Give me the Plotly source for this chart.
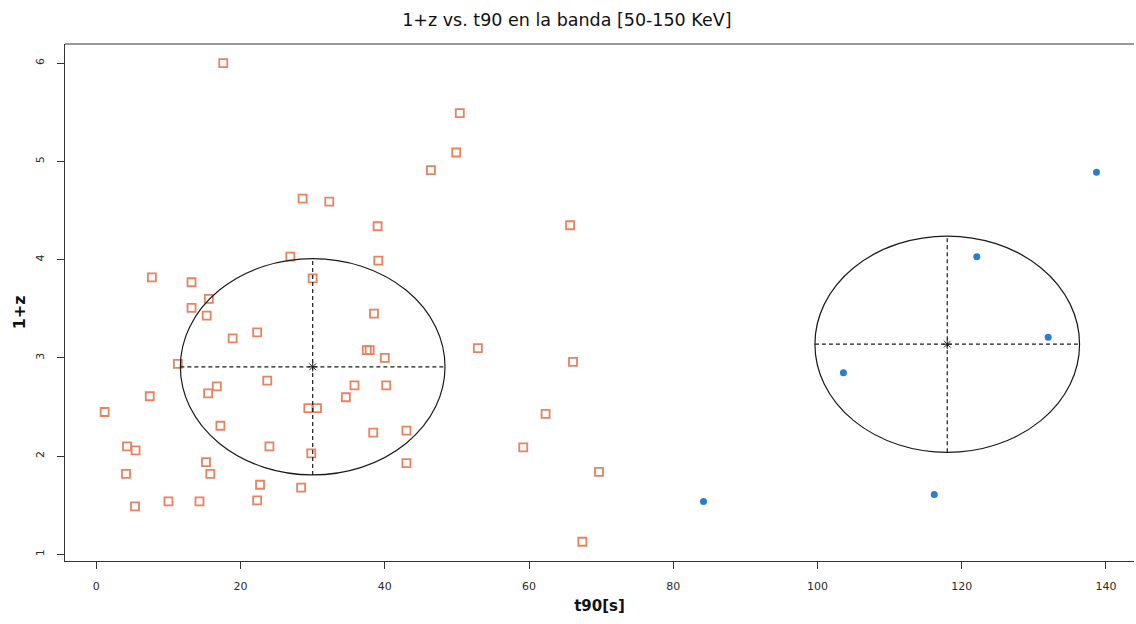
import plotly.graph_objects as go

# t90 [s] and 1+z for the long-duration group (open squares)
t90_a = [17.6, 50.4, 49.9, 46.4, 28.6, 32.3, 39.0, 65.7, 39.1, 30.0,
         26.9, 7.7, 13.2, 15.6, 13.2, 15.3, 18.9, 22.3, 38.5, 37.5,
         37.9, 40.0, 52.9, 11.3, 23.7, 16.7, 15.5, 7.4, 35.8, 40.2,
         34.6, 29.4, 30.6, 17.2, 38.4, 43.0, 24.0, 29.8, 43.0, 15.2,
         15.8, 22.7, 28.4, 10.0, 14.3, 22.3, 1.15, 4.25, 5.44, 4.11,
         5.36, 66.1, 62.3, 59.2, 69.7, 67.4]
z1_a = [6.00, 5.49, 5.09, 4.91, 4.62, 4.59, 4.34, 4.35, 3.99, 3.81,
        4.03, 3.82, 3.77, 3.60, 3.51, 3.43, 3.20, 3.26, 3.45, 3.08,
        3.08, 3.00, 3.10, 2.94, 2.77, 2.71, 2.64, 2.61, 2.72, 2.72,
        2.60, 2.49, 2.49, 2.31, 2.24, 2.26, 2.10, 2.03, 1.93, 1.94,
        1.82, 1.71, 1.68, 1.54, 1.54, 1.55, 2.45, 2.10, 2.06, 1.82,
        1.49, 2.96, 2.43, 2.09, 1.84, 1.13]

# t90 [s] and 1+z for the second group (filled dots)
t90_b = [84.2, 138.7, 122.1, 132.0, 103.6, 116.2]
z1_b = [1.54, 4.89, 4.03, 3.21, 2.85, 1.61]

# group centres and half-widths of the summary ellipses
centre_t90 = [30.0, 118.0]
centre_z1 = [2.91, 3.14]
half_t90 = [18.35, 18.35]
half_z1 = [1.10, 1.10]

x_ticks = [0, 20, 40, 60, 80, 100, 120, 140]
y_ticks = [1, 2, 3, 4, 5, 6]

fig = go.Figure()

fig.add_trace(go.Scatter(
    x=t90_a, y=z1_a, mode="markers",
    marker=dict(symbol="square-open", size=8, color="#E8825F",
                line=dict(width=1.8, color="#E8825F")),
    showlegend=False, hoverinfo="x+y"))

fig.add_trace(go.Scatter(
    x=t90_b, y=z1_b, mode="markers",
    marker=dict(symbol="circle", size=7, color="#2B7BCF"),
    showlegend=False, hoverinfo="x+y"))

fig.add_trace(go.Scatter(
    x=centre_t90, y=centre_z1, mode="markers",
    marker=dict(symbol="asterisk-open", size=8, color="#222",
                line=dict(width=1, color="#222")),
    showlegend=False, hoverinfo="x+y"))

for cx, cy, a, b in zip(centre_t90, centre_z1, half_t90, half_z1):
    fig.add_shape(type="circle", xref="x", yref="y",
                  x0=cx - a, x1=cx + a, y0=cy - b, y1=cy + b,
                  line=dict(color="#1a1a1a", width=1.2))
    fig.add_shape(type="line", xref="x", yref="y",
                  x0=cx - a, x1=cx + a, y0=cy, y1=cy,
                  line=dict(color="#1a1a1a", width=1.2, dash="4px,3px"))
    fig.add_shape(type="line", xref="x", yref="y",
                  x0=cx, x1=cx, y0=cy - b, y1=cy + b,
                  line=dict(color="#1a1a1a", width=1.2, dash="4px,3px"))

axis_font = dict(family="DejaVu Sans", size=11, color="#2a2a2a")

fig.update_layout(
    width=1136, height=624,
    margin=dict(l=65, r=2, t=44, b=63),
    paper_bgcolor="white", plot_bgcolor="white",
    title=dict(text="1+z vs. t90 en la banda [50-150 KeV]",
               x=0.499, xanchor="center", y=1 - 20 / 624, yanchor="middle",
               yref="container",
               font=dict(family="DejaVu Sans", size=17.5, color="#111")),
    xaxis=dict(range=[-4.35, 143.9], tickvals=x_ticks,
               ticktext=[str(v) for v in x_ticks],
               showgrid=False, zeroline=False,
               showline=True, linecolor="#333", linewidth=1.2,
               ticks="outside", ticklen=7, tickcolor="#333", tickwidth=1.2,
               tickfont=axis_font, ticklabelstandoff=8,
               title=dict(text="<b>t90[s]</b>", standoff=8,
                          font=dict(family="DejaVu Sans", size=15, color="#111"))),
    yaxis=dict(range=[0.934, 6.194], tickvals=y_ticks,
               ticktext=[str(v) for v in y_ticks],
               showgrid=False, zeroline=False,
               showline=True, linecolor="#333", linewidth=1.2,
               ticks="outside", ticklen=7, tickcolor="#333", tickwidth=1.2,
               tickangle=-90, tickfont=axis_font, ticklabelstandoff=9),
)

# y-axis title, placed a little below the middle of the axis
fig.add_annotation(text="<b>1+z</b>", xref="paper", yref="paper",
                   x=-46 / 1069, y=(560.5 - 312) / 516.5,
                   xanchor="center", yanchor="middle", textangle=-90,
                   showarrow=False,
                   font=dict(family="DejaVu Sans", size=16, color="#111"))

# top border of the plotting box
fig.add_shape(type="line", xref="paper", yref="paper",
              x0=0, x1=1, y0=1, y1=1, line=dict(color="#333", width=1.2))

fig.write_html("out.html")
